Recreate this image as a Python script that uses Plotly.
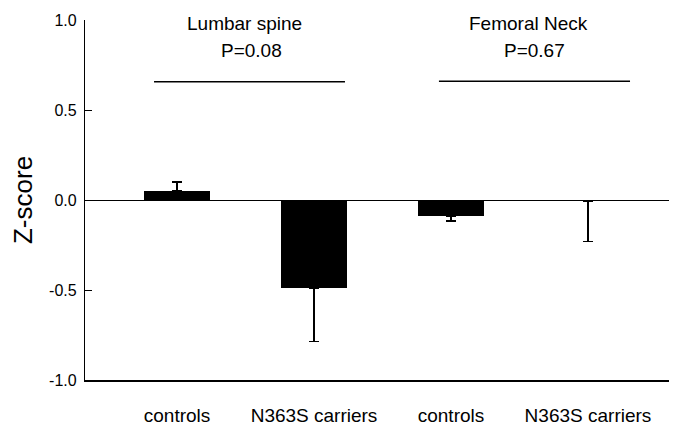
import plotly.graph_objects as go

categories = ["controls", "N363S carriers", "controls", "N363S carriers"]
zscores = [0.052, -0.49, -0.09, -0.005]
err_plus = [0.048, 0.0, 0.0, 0.0]
err_minus = [0.0, 0.297, 0.028, 0.225]
groups = ["Lumbar spine", "Femoral Neck"]
pvalues = ["P=0.08", "P=0.67"]
bracket_y = [0.657, 0.66]
y_ticks = [-1.0, -0.5, 0.0, 0.5, 1.0]
y_ticktext = ["-1.0", "-0.5", "0.0", "0.5", "1.0"]

FONT = "Liberation Sans, Arial, sans-serif"
xpos = list(range(len(categories)))

fig = go.Figure()
fig.add_trace(go.Bar(
    x=xpos, y=zscores, width=0.48,
    marker=dict(color="black", line=dict(width=0)),
    error_y=dict(type="data", symmetric=False, array=err_plus, arrayminus=err_minus,
                 color="black", thickness=1.5, width=5),
    showlegend=False,
))

# bracket lines over each group
bracket_x = [(-0.168, 1.226), (1.912, 3.307)]
for (x0, x1), yb in zip(bracket_x, bracket_y):
    fig.add_shape(type="line", x0=x0, x1=x1, y0=yb, y1=yb, xref="x", yref="y",
                  line=dict(color="black", width=1.5))

group_x = [0.489, 2.569]
p_x = [0.547, 2.606]
for gx, px, g, p in zip(group_x, p_x, groups, pvalues):
    fig.add_annotation(x=gx, y=0.983, xref="x", yref="y", text=g, showarrow=False,
                       font=dict(size=19, color="black", family=FONT), xanchor="center", yanchor="middle")
    fig.add_annotation(x=px, y=0.828, xref="x", yref="y", text=p, showarrow=False,
                       font=dict(size=19, color="black", family=FONT), xanchor="center", yanchor="middle")

fig.add_annotation(x=-0.1047, y=0.5, xref="paper", yref="paper", text="Z-score",
                   textangle=-90, showarrow=False, xanchor="center", yanchor="middle",
                   font=dict(size=26, color="black", family=FONT))

# the page body has an 8px margin, so the figure is sized/offset to compensate
fig.update_layout(
    width=669, height=420,
    margin=dict(l=77, r=0, t=12, b=48),
    paper_bgcolor="white", plot_bgcolor="white",
    font=dict(family=FONT, color="black"),
    bargap=0,
)
fig.update_xaxes(
    range=[-0.672, 3.65], tickvals=xpos, ticktext=categories, automargin=False,
    showgrid=False, zeroline=False, showline=True, linecolor="black", linewidth=1.5,
    ticks="", tickfont=dict(size=19, family=FONT, color="black"), ticklabelstandoff=17,
)
fig.update_yaxes(
    range=[-1, 1], tickvals=y_ticks, ticktext=y_ticktext, automargin=False,
    showgrid=False, zeroline=True, zerolinecolor="black", zerolinewidth=1.2,
    showline=True, linecolor="black", linewidth=1.2,
    ticks="inside", ticklen=7, tickcolor="black", tickwidth=1,
    tickfont=dict(size=16, family=FONT, color="black"), ticklabelstandoff=4,
)

fig.write_html("out.html", config={"displayModeBar": False})
